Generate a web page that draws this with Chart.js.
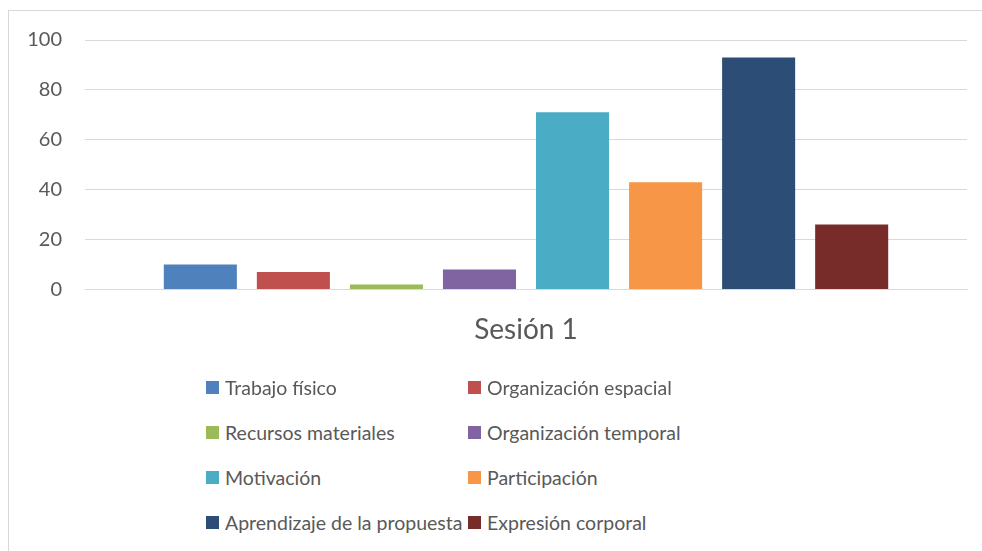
<!DOCTYPE html>
<html>
<head>
<meta charset="utf-8">
<script src="https://cdn.jsdelivr.net/npm/chart.js@4.4.0/dist/chart.umd.min.js"></script>
<style>
  body { margin: 0; background: #fff; font-family: Lato, sans-serif; }
  #frame { position: absolute; left: 8px; top: 10px; width: 990px; height: 560px; border: 1px solid #d9d9d9; box-sizing: border-box; }
  #wrap { position: absolute; left: 0; top: 0; width: 982px; height: 385px; }
  #legend { position: absolute; left: 206px; top: 376px; width: 560px; }
  .item { position: absolute; display: flex; align-items: center; color: #595959; font-size: 19.5px; white-space: nowrap; }
  .box { width: 13px; height: 13px; margin-right: 6px; }
</style>
</head>
<body>
<div id="frame"></div>
<div id="wrap"><canvas id="myChart"></canvas></div>
<div id="legend"></div>
<script>
const categories = ['Sesión 1']
const seriesNames = ['Trabajo físico', 'Organización espacial', 'Recursos materiales', 'Organización temporal',
  'Motivación', 'Participación', 'Aprendizaje de la propuesta', 'Expresión corporal']
const seriesValues = [10, 7, 2, 8, 71, 43, 93, 26]
const seriesColors = ['#4f81bd', '#c0504d', '#9bbb59', '#8064a2', '#4bacc6', '#f79646', '#2c4d75', '#772c2a']
const yTicks = [0, 20, 40, 60, 80, 100]

let ctx = document.getElementById('myChart').getContext('2d')
let chart = new Chart(ctx, {
  type: 'bar',
  data: {
    labels: categories,
    datasets: seriesNames.map((name, i) => ({
      label: name,
      data: [seriesValues[i]],
      backgroundColor: seriesColors[i],
      categoryPercentage: 0.844,
      barPercentage: 0.785
    }))
  },
  options: {
    responsive: true,
    maintainAspectRatio: false,
    animation: false,
    layout: { padding: { left: 0, right: 15, top: 40, bottom: 14 } },
    plugins: { legend: { display: false }, tooltip: { enabled: false } },
    scales: {
      x: {
        grid: { display: false, drawTicks: false },
        border: { display: true, color: '#d9d9d9', width: 1 },
        ticks: { color: '#595959', font: { family: 'Lato', size: 28 }, padding: 24 }
      },
      y: {
        min: 0,
        max: 100,
        afterBuildTicks: s => { s.ticks = yTicks.map(v => ({ value: v })) },
        afterFit: s => { s.width = 85 },
        grid: { color: '#d9d9d9', drawTicks: false, lineWidth: 1 },
        border: { display: false },
        ticks: { color: '#595959', font: { family: 'Lato', size: 20 }, padding: 23 }
      }
    }
  }
})

// legend in two columns, built from the datasets
const legend = document.getElementById('legend')
chart.data.datasets.forEach((ds, i) => {
  const el = document.createElement('div')
  el.className = 'item'
  el.style.left = (i % 2 ? 262 : 0) + 'px'
  el.style.top = (Math.floor(i / 2) * 45) + 'px'
  el.innerHTML = '<span class="box" style="background:' + ds.backgroundColor + '"></span>' + ds.label
  legend.appendChild(el)
})
</script>
</body>
</html>
